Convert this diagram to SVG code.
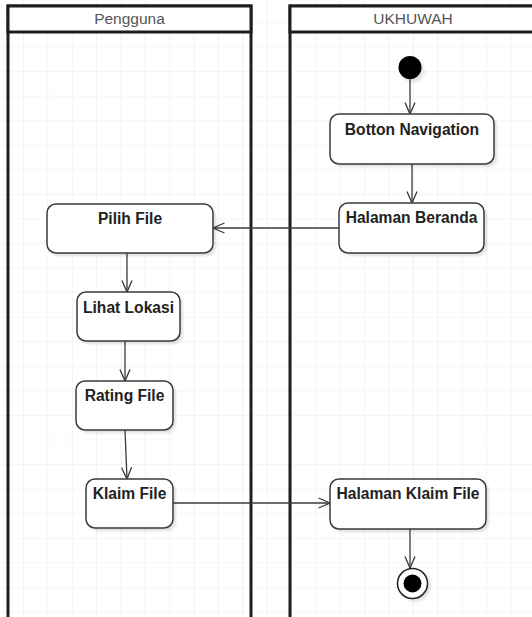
<svg xmlns="http://www.w3.org/2000/svg" width="532" height="617" viewBox="0 0 532 617">
  <style>
    .lane { fill: none; stroke: #1e1e1e; stroke-width: 3; }
    .lanehead { fill: #ffffff; stroke: #1e1e1e; stroke-width: 3; }
    .lanetxt { font-family: "Liberation Sans", Arial, sans-serif; font-size: 15.5px; fill: #555; text-anchor: middle; }
    .act { fill: #ffffff; stroke: #3a3a3a; stroke-width: 1.5; }
    .shadow { fill: #000; opacity: 0.12; filter: url(#blur); }
    .acttxt { font-family: "Liberation Sans", Arial, sans-serif; font-size: 15.6px; font-weight: bold; fill: #222; text-anchor: middle; }
    .edge { fill: none; stroke: #3a3a3a; stroke-width: 1.3; marker-end: url(#open); }
  </style>
  <defs>
    <pattern id="grid" x="23" y="22" width="24.37" height="24.56" patternUnits="userSpaceOnUse">
      <path d="M0,0 V24.56 M0,0 H24.37" fill="none" stroke="#ebebeb" stroke-width="1.2"/>
    </pattern>
    <filter id="blur" x="-20%" y="-20%" width="140%" height="140%">
      <feGaussianBlur stdDeviation="1.5"/>
    </filter>
    <marker id="open" viewBox="0 0 14 12" refX="12.5" refY="6" markerWidth="14" markerHeight="12" markerUnits="userSpaceOnUse" orient="auto">
      <path d="M1,1 L12.5,6 L1,11" fill="none" stroke="#3a3a3a" stroke-width="1.3"/>
    </marker>
  </defs>

  <rect x="0" y="0" width="532" height="617" fill="#ffffff"/>
  <rect x="0" y="0" width="532" height="617" fill="url(#grid)"/>

  <g id="lane-pengguna">
    <rect class="lane" x="8" y="6" width="243" height="620"/>
    <rect class="lanehead" x="8" y="6" width="243" height="26"/>
    <text class="lanetxt" x="129.5" y="24">Pengguna</text>
  </g>
  <g id="lane-ukhuwah">
    <rect class="lane" x="290" y="6" width="250" height="620"/>
    <rect class="lanehead" x="290" y="6" width="250" height="26"/>
    <text class="lanetxt" x="413" y="24">UKHUWAH</text>
  </g>

  <g id="connectors">
    <path class="edge" d="M410,79 V114"/>
    <path class="edge" d="M412,164 V203"/>
    <path class="edge" d="M339,228 H213"/>
    <path class="edge" d="M127,253 V292"/>
    <path class="edge" d="M125,341 V381"/>
    <path class="edge" d="M125,430 L127,479"/>
    <path class="edge" d="M173,503 H330"/>
    <path class="edge" d="M410,529 V568"/>
  </g>

  <g id="start">
    <circle cx="413" cy="71" r="11.5" fill="#000" opacity="0.1" filter="url(#blur)"/>
    <circle cx="410" cy="67.5" r="11.5" fill="#000"/>
  </g>

  <g id="botton-navigation">
    <rect class="shadow" x="333" y="117" width="164" height="50" rx="9"/>
    <rect class="act" x="330" y="114" width="164" height="50" rx="9"/>
    <text class="acttxt" x="412" y="135">Botton Navigation</text>
  </g>

  <g id="halaman-beranda">
    <rect class="shadow" x="342" y="206" width="145" height="50" rx="9"/>
    <rect class="act" x="339" y="203" width="145" height="50" rx="9"/>
    <text class="acttxt" x="411.5" y="223">Halaman Beranda</text>
  </g>

  <g id="pilih-file">
    <rect class="shadow" x="50" y="207" width="166" height="49" rx="9"/>
    <rect class="act" x="47" y="204" width="166" height="49" rx="9"/>
    <text class="acttxt" x="130" y="224">Pilih File</text>
  </g>

  <g id="lihat-lokasi">
    <rect class="shadow" x="80" y="295" width="103" height="49" rx="9"/>
    <rect class="act" x="77" y="292" width="103" height="49" rx="9"/>
    <text class="acttxt" x="128.5" y="313">Lihat Lokasi</text>
  </g>

  <g id="rating-file">
    <rect class="shadow" x="79" y="384" width="97" height="49" rx="9"/>
    <rect class="act" x="76" y="381" width="97" height="49" rx="9"/>
    <text class="acttxt" x="124.5" y="401">Rating File</text>
  </g>

  <g id="klaim-file">
    <rect class="shadow" x="89" y="482" width="87" height="49" rx="9"/>
    <rect class="act" x="86" y="479" width="87" height="49" rx="9"/>
    <text class="acttxt" x="129.5" y="499">Klaim File</text>
  </g>

  <g id="halaman-klaim-file">
    <rect class="shadow" x="333" y="482" width="156" height="50" rx="9"/>
    <rect class="act" x="330" y="479" width="156" height="50" rx="9"/>
    <text class="acttxt" x="408" y="499">Halaman Klaim File</text>
  </g>

  <g id="end">
    <circle cx="415" cy="586" r="15.5" fill="#000" opacity="0.12" filter="url(#blur)"/>
    <circle cx="412.5" cy="583.5" r="15" fill="#ffffff" stroke="#222" stroke-width="1.5"/>
    <circle cx="412.5" cy="583.5" r="9" fill="#000"/>
  </g>
</svg>
